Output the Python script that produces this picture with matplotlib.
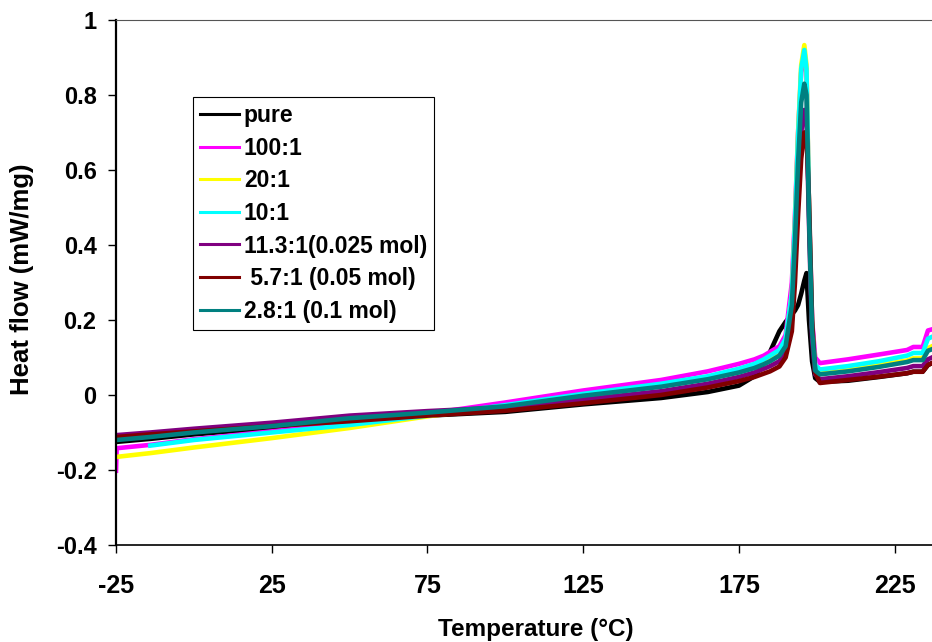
"""
DSC heat flow traces, pure sample vs. doped ratios
"""

import numpy as np
import matplotlib.pyplot as plt

plt.rcParams['font.family'] = ['Liberation Sans', 'DejaVu Sans']
plt.rcParams['font.weight'] = 'bold'
plt.rcParams['axes.unicode_minus'] = False

nan = np.nan

# temperature readings (°C)
temp = [-25, -24.8, -14, 0, 25, 50, 75, 100, 125, 150, 165, 175, 180, 183, 185,
        188, 190, 192, 193, 194, 195, 196, 196.7, 197.5, 198.5, 199.5, 201,
        210, 220, 229, 231, 234, 235.7, 237]

# heat flow (mW/mg) for each sample
pure = [-0.125, -0.125, -0.117, -0.105, -0.088, -0.070, -0.055, -0.045, -0.025,
        -0.008, 0.008, 0.025, 0.050, 0.085, 0.115, 0.170, 0.195, 0.215, 0.225,
        0.240, 0.270, 0.305, 0.325, 0.200, 0.090, 0.045, 0.035, 0.038, 0.048,
        0.058, 0.062, 0.062, 0.080, 0.085]
r100 = [-0.202, -0.142, -0.133, -0.118, -0.097, -0.075, -0.050, -0.020, 0.012,
        0.040, 0.063, 0.083, 0.095, 0.105, 0.115, 0.130, 0.160, 0.300, 0.480,
        0.700, 0.860, 0.900, 0.860, 0.500, 0.200, 0.100, 0.085, 0.095, 0.108,
        0.120, 0.128, 0.128, 0.172, 0.175]
r20 = [-0.166, -0.165, -0.155, -0.140, -0.115, -0.088, -0.057, -0.030, -0.003,
       0.025, 0.045, 0.063, 0.077, 0.088, 0.100, 0.115, 0.145, 0.270, 0.460,
       0.700, 0.880, 0.933, 0.880, 0.500, 0.180, 0.075, 0.060, 0.068, 0.080,
       0.092, 0.098, 0.098, 0.125, 0.130]
r10 = [nan, nan, -0.135, -0.120, -0.100, -0.080, -0.055, -0.027, 0.003,
       0.030, 0.050, 0.070, 0.083, 0.095, 0.105, 0.120, 0.150, 0.270, 0.460,
       0.690, 0.870, 0.920, 0.870, 0.500, 0.180, 0.080, 0.068, 0.077, 0.090,
       0.105, 0.112, 0.112, 0.150, 0.155]
r11_3 = [-0.107, -0.107, -0.100, -0.090, -0.074, -0.055, -0.043, -0.033, -0.012,
         0.010, 0.030, 0.048, 0.060, 0.070, 0.077, 0.090, 0.115, 0.200, 0.350,
         0.550, 0.700, 0.760, 0.740, 0.460, 0.150, 0.055, 0.042, 0.050, 0.061,
         0.072, 0.077, 0.077, 0.095, 0.100]
r5_7 = [-0.112, -0.112, -0.105, -0.097, -0.083, -0.070, -0.055, -0.042, -0.022,
        0.000, 0.020, 0.037, 0.048, 0.057, 0.063, 0.076, 0.100, 0.170, 0.300,
        0.480, 0.630, 0.700, 0.700, 0.520, 0.200, 0.060, 0.032, 0.040, 0.049,
        0.058, 0.062, 0.062, 0.080, 0.085]
r2_8 = [-0.120, -0.120, -0.112, -0.100, -0.083, -0.062, -0.047, -0.030, -0.002,
        0.022, 0.042, 0.060, 0.072, 0.082, 0.090, 0.105, 0.130, 0.240, 0.410,
        0.620, 0.780, 0.830, 0.800, 0.480, 0.170, 0.065, 0.055, 0.063, 0.075,
        0.088, 0.093, 0.093, 0.118, 0.122]

labels = ["pure", "100:1", "20:1", "10:1", "11.3:1(0.025 mol)",
          " 5.7:1 (0.05 mol)", "2.8:1 (0.1 mol)"]
colors = ["#000000", "#FF00FF", "#FFFF00", "#00FFFF", "#800080", "#800000", "#008080"]
series = [pure, r100, r20, r10, r11_3, r5_7, r2_8]

xticks = [-25, 25, 75, 125, 175, 225]
yticks = [-0.4, -0.2, 0, 0.2, 0.4, 0.6, 0.8, 1]
yticklabels = ["-0.4", "-0.2", "0", "0.2", "0.4", "0.6", "0.8", "1"]

fig = plt.figure(figsize=(9.32, 6.42), dpi=100)
ax = fig.add_axes([0.1245, 0.1511, 0.8755, 0.8178])

for y, c, lab in zip(series, colors, labels):
    ax.plot(temp, y, color=c, lw=3.3, label=lab)

ax.set_xlim(-25, 237)
ax.set_ylim(-0.4, 1)
ax.set_xticks(xticks)
ax.set_yticks(yticks)
ax.set_yticklabels(yticklabels)
ax.tick_params(axis='x', direction='out', length=6, width=1, pad=15, labelsize=18)
ax.tick_params(axis='y', direction='out', length=6, width=1, pad=8, labelsize=17)

ax.spines['right'].set_visible(False)
ax.spines['top'].set_color('#555555')
ax.spines['top'].set_linewidth(0.8)
ax.spines['left'].set_linewidth(1.6)
ax.spines['bottom'].set_linewidth(1.2)

# axis labels
fig.text(0.575, 0.019, "Temperature (°C)", ha='center', va='center',
         fontsize=17.5, fontweight='bold')
fig.text(0.024, 0.565, "Heat flow (mW/mg)", ha='center', va='center',
         rotation=90, fontsize=18.5, fontweight='bold')

leg = ax.legend(loc='upper left', bbox_to_anchor=(0.0944, 0.853),
                fontsize=16.5, fancybox=False, framealpha=1, edgecolor='black',
                borderpad=0.3, labelspacing=0.42, handlelength=1.7,
                handletextpad=0.22, borderaxespad=0)
leg.get_frame().set_linewidth(0.8)
for line in leg.get_lines():
    line.set_linewidth(2.2)

plt.savefig("out.png", dpi=100)
